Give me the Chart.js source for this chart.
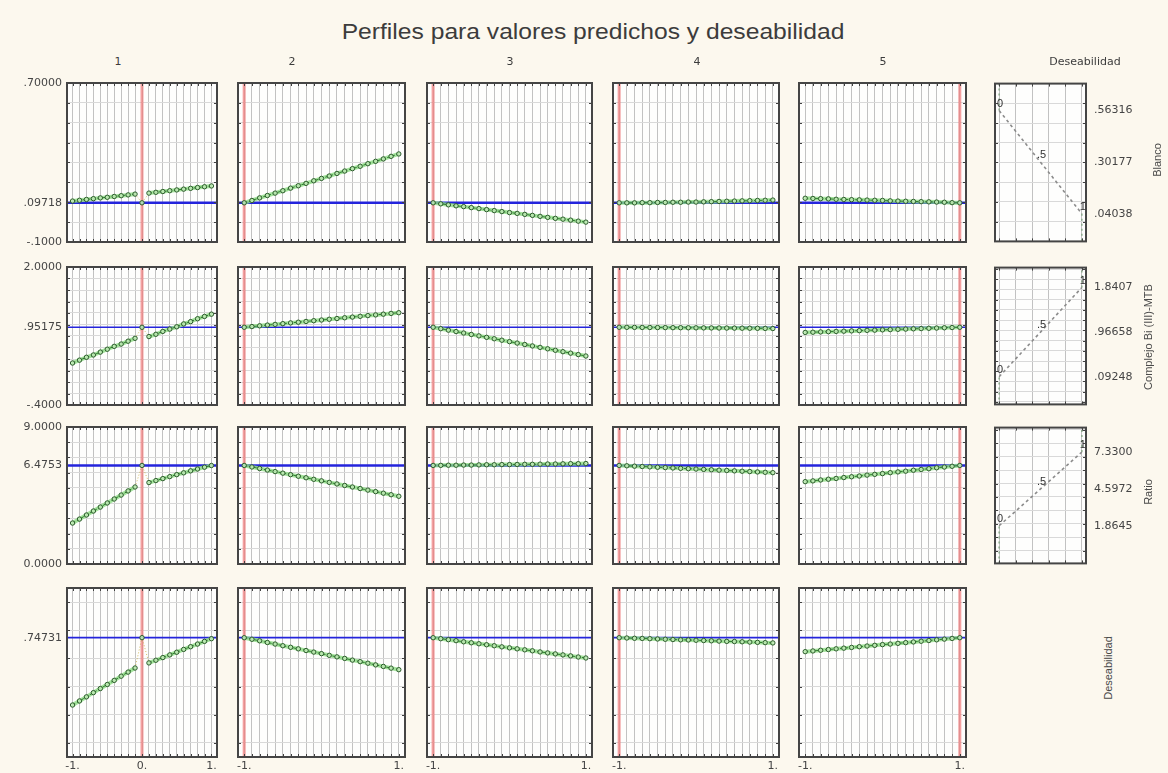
<!DOCTYPE html>
<html>
<head>
<meta charset="utf-8">
<script src="https://cdn.jsdelivr.net/npm/chart.js@4.4.1/dist/chart.umd.min.js"></script>
<style>
  html, body { margin: 0; padding: 0; background: #fcf8ee; }
  body { width: 1168px; height: 773px; position: relative; overflow: hidden; font-family: "Liberation Sans", Arial, sans-serif; }
  canvas { position: absolute; }
  .txt { position: absolute; color: #444; white-space: nowrap; line-height: 1; }
  #title { top: 21px; left: 93px; width: 1000px; text-align: center; font-size: 22px; line-height: 22px; color: #3c3c3c; transform: scaleX(1.12); }
  .head { font-size: 11px; top: 56px; transform: translateX(-50%); font-family: "DejaVu Sans", sans-serif; color: #3c3c3c; }
  .rname { font-size: 11px; transform: translate(-50%, -50%) rotate(-90deg); color: #4a4a4a; }
</style>
</head>
<body>
<div id="title" class="txt">Perfiles para valores predichos y deseabilidad</div>
<script>
// ---- factor levels (coded) along each profile ----
const levels = [-1.0, -0.9, -0.8, -0.7, -0.6, -0.5, -0.4, -0.3, -0.2, -0.1, 0.0,
                 0.1, 0.2, 0.3, 0.4, 0.5, 0.6, 0.7, 0.8, 0.9, 1.0];
const factorNames = ['1', '2', '3', '4', '5'];
const currentSetting = [0, -1, -1, -1, 1];

// ---- responses ----
const responseNames = ['Blanco', 'Complejo Bi (III)-MTB', 'Ratio', 'Deseabilidad'];
const currentPredicted = [0.09718, 0.95175, 6.4753, 0.74731];
const currentLabels = ['.09718', '.95175', '6.4753', '.74731'];
const axisMin = [-0.1, -0.4, 0.0, -0.1];
const axisMax = [0.7, 2.0, 9.0, 1.1];
const axisMinLabels = ['-.1000', '-.4000', '0.0000', null];
const axisMaxLabels = ['.70000', '2.0000', '9.0000', null];
const gridStep = [0.1, 0.2, 1.0, 0.2];
const levelTickValues = [-1, 0, 1];
const levelTickLabels = ['-1.', '0.', '1.'];

// ---- predicted profiles: Blanco ----
const blancoF1 = [0.106, 0.110, 0.114, 0.118, 0.122, 0.125, 0.129, 0.133, 0.137, 0.141, 0.09718,
                  0.146, 0.150, 0.154, 0.158, 0.162, 0.166, 0.170, 0.174, 0.178, 0.182];
const blancoF2 = [0.0972, 0.109, 0.122, 0.134, 0.146, 0.158, 0.171, 0.183, 0.195, 0.208, 0.220,
                  0.232, 0.245, 0.257, 0.269, 0.281, 0.294, 0.306, 0.318, 0.331, 0.343];
const blancoF3 = [0.0972, 0.092, 0.087, 0.082, 0.078, 0.073, 0.068, 0.063, 0.058, 0.053, 0.048,
                  0.044, 0.039, 0.034, 0.029, 0.024, 0.019, 0.015, 0.010, 0.005, 0.000];
const blancoF4 = [0.0972, 0.097, 0.097, 0.098, 0.098, 0.099, 0.099, 0.100, 0.100, 0.101, 0.101,
                  0.102, 0.103, 0.104, 0.105, 0.106, 0.107, 0.108, 0.109, 0.110, 0.111];
const blancoF5 = [0.120, 0.119, 0.118, 0.117, 0.115, 0.114, 0.113, 0.112, 0.111, 0.110, 0.109,
                  0.107, 0.106, 0.105, 0.104, 0.103, 0.102, 0.101, 0.100, 0.098, 0.0972];

// ---- predicted profiles: Complejo Bi (III)-MTB ----
const complejoF1 = [0.33, 0.38, 0.43, 0.47, 0.52, 0.57, 0.62, 0.66, 0.71, 0.76, 0.95175,
                    0.79, 0.83, 0.88, 0.92, 0.96, 1.01, 1.05, 1.10, 1.14, 1.18];
const complejoF2 = [0.952, 0.964, 0.977, 0.990, 1.002, 1.015, 1.028, 1.040, 1.053, 1.066, 1.078,
                    1.091, 1.104, 1.117, 1.129, 1.142, 1.155, 1.167, 1.180, 1.193, 1.205];
const complejoF3 = [0.952, 0.927, 0.902, 0.877, 0.852, 0.827, 0.802, 0.777, 0.752, 0.727, 0.702,
                    0.677, 0.652, 0.627, 0.602, 0.577, 0.552, 0.527, 0.502, 0.477, 0.452];
const complejoF4 = [0.952, 0.951, 0.950, 0.949, 0.948, 0.947, 0.946, 0.945, 0.944, 0.943, 0.942,
                    0.941, 0.940, 0.939, 0.938, 0.937, 0.936, 0.935, 0.934, 0.932, 0.930];
const complejoF5 = [0.862, 0.866, 0.871, 0.875, 0.880, 0.884, 0.889, 0.893, 0.898, 0.902, 0.907,
                    0.911, 0.916, 0.920, 0.925, 0.929, 0.934, 0.938, 0.943, 0.947, 0.952];

// ---- predicted profiles: Ratio ----
const ratioF1 = [2.69, 2.95, 3.22, 3.48, 3.74, 4.01, 4.27, 4.53, 4.80, 5.06, 6.4753,
                 5.35, 5.48, 5.61, 5.74, 5.87, 5.99, 6.12, 6.24, 6.36, 6.47];
const ratioF2 = [6.475, 6.374, 6.273, 6.172, 6.070, 5.969, 5.868, 5.767, 5.665, 5.564, 5.463,
                 5.362, 5.260, 5.159, 5.058, 4.957, 4.855, 4.754, 4.653, 4.552, 4.450];
const ratioF3 = [6.475, 6.48, 6.49, 6.49, 6.50, 6.50, 6.51, 6.52, 6.52, 6.53, 6.53,
                 6.54, 6.55, 6.55, 6.56, 6.57, 6.57, 6.58, 6.59, 6.59, 6.60];
const ratioF4 = [6.475, 6.451, 6.428, 6.404, 6.380, 6.356, 6.333, 6.309, 6.285, 6.261, 6.238,
                 6.214, 6.190, 6.166, 6.143, 6.119, 6.095, 6.071, 6.048, 6.024, 6.000];
const ratioF5 = [5.41, 5.46, 5.52, 5.57, 5.62, 5.68, 5.73, 5.78, 5.84, 5.89, 5.94,
                 6.00, 6.05, 6.10, 6.16, 6.21, 6.26, 6.32, 6.37, 6.42, 6.475];

// ---- overall desirability profiles ----
const desirF1 = [0.269, 0.298, 0.327, 0.357, 0.386, 0.415, 0.444, 0.474, 0.503, 0.532, 0.74731,
                 0.568, 0.587, 0.606, 0.625, 0.644, 0.664, 0.683, 0.702, 0.721, 0.740];
const desirF2 = [0.747, 0.736, 0.725, 0.713, 0.702, 0.690, 0.679, 0.668, 0.656, 0.645, 0.634,
                 0.622, 0.611, 0.600, 0.588, 0.577, 0.566, 0.554, 0.543, 0.531, 0.520];
const desirF3 = [0.747, 0.740, 0.733, 0.726, 0.718, 0.711, 0.704, 0.697, 0.690, 0.682, 0.675,
                 0.668, 0.661, 0.654, 0.646, 0.639, 0.632, 0.625, 0.618, 0.610, 0.603];
const desirF4 = [0.747, 0.745, 0.743, 0.742, 0.740, 0.738, 0.736, 0.734, 0.732, 0.731, 0.729,
                 0.727, 0.725, 0.723, 0.721, 0.720, 0.718, 0.716, 0.714, 0.712, 0.710];
const desirF5 = [0.648, 0.653, 0.658, 0.663, 0.668, 0.673, 0.678, 0.683, 0.688, 0.693, 0.698,
                 0.702, 0.707, 0.712, 0.717, 0.722, 0.727, 0.732, 0.737, 0.742, 0.747];

// ---- individual desirability functions (response value at d = 0, .5, 1) ----
const desLevels = [0, 0.5, 1];
const desLevelLabels = ['0', '.5', '1'];
const blancoDes = [0.56316, 0.30177, 0.04038];
const blancoDesLabels = ['.56316', '.30177', '.04038'];
const complejoDes = [0.09248, 0.96658, 1.8407];
const complejoDesLabels = ['.09248', '.96658', '1.8407'];
const ratioDes = [1.8645, 4.5972, 7.3300];
const ratioDesLabels = ['1.8645', '4.5972', '7.3300'];

// tables assembled from the arrays above
const profiles = [
  [blancoF1, blancoF2, blancoF3, blancoF4, blancoF5],
  [complejoF1, complejoF2, complejoF3, complejoF4, complejoF5],
  [ratioF1, ratioF2, ratioF3, ratioF4, ratioF5],
  [desirF1, desirF2, desirF3, desirF4, desirF5]
];
const desFunctions = [
  { values: blancoDes, labels: blancoDesLabels },
  { values: complejoDes, labels: complejoDesLabels },
  { values: ratioDes, labels: ratioDesLabels }
];

// ---- page layout (pixel boxes of each plotting area) ----
const colBox = [[67, 217], [238, 405], [427, 592], [613, 779], [799, 966]];
const desBox = [995, 1086];
const rowBox = [[83, 242], [267, 405], [427, 564], [588, 757]];
const desAxisMin = [-0.1, -0.45, -0.93];
const desAxisMax = [0.7, 2.23, 9.15];
const levelMin = -1.08, levelMax = 1.08;
const headPos = [118, 292, 510, 697, 883];
const rowNamePos = [[1157, 160], [1148, 337], [1148, 492], [1108, 668]];

Chart.defaults.font.family = '"DejaVu Sans", "Liberation Sans", sans-serif';
Chart.defaults.font.size = 11;
Chart.defaults.color = '#454545';

function gridValues(min, max, step) {
  const out = [];
  const k0 = Math.ceil(min / step - 1e-9), k1 = Math.floor(max / step + 1e-9);
  for (let k = k0; k <= k1; k++) out.push(+(k * step).toFixed(6));
  return out;
}

// frame, inward tick marks, white plotting area and point captions
const decor = {
  id: 'decor',
  beforeDraw(chart) {
    const { ctx, chartArea: a } = chart;
    ctx.save();
    ctx.fillStyle = '#fefefd';
    ctx.fillRect(a.left, a.top, a.right - a.left, a.bottom - a.top);
    ctx.restore();
  },
  afterDraw(chart, args, o) {
    const { ctx, chartArea: a, scales } = chart;
    ctx.save();
    ctx.strokeStyle = '#404040';
    ctx.lineWidth = 1;
    const t = 3;
    ctx.beginPath();
    o.xGrid.forEach(v => {
      const p = Math.round(scales.x.getPixelForValue(v)) + 0.5;
      ctx.moveTo(p, a.top); ctx.lineTo(p, a.top + t);
      ctx.moveTo(p, a.bottom); ctx.lineTo(p, a.bottom - t);
    });
    o.yGrid.forEach(v => {
      const p = Math.round(scales.y.getPixelForValue(v)) + 0.5;
      ctx.moveTo(a.left, p); ctx.lineTo(a.left + t, p);
      ctx.moveTo(a.right, p); ctx.lineTo(a.right - t, p);
    });
    ctx.stroke();
    ctx.lineWidth = 2;
    ctx.strokeStyle = '#454545';
    ctx.strokeRect(a.left, a.top, a.right - a.left, a.bottom - a.top);
    if (o.captions) {
      const meta = chart.getDatasetMeta(o.captionDataset);
      ctx.fillStyle = '#333';
      ctx.font = '11px "Liberation Sans", sans-serif';
      ctx.textAlign = 'center';
      ctx.textBaseline = 'middle';
      meta.data.forEach((el, i) => ctx.fillText(o.captions[i], el.x + 1, el.y - 7));
    }
    ctx.restore();
  }
};

function addPanel(p) {
  const w = p.x1 - p.x0, h = p.y1 - p.y0;
  const W = w + p.padL + p.padR, H = h + p.padT + p.padB;
  const c = document.createElement('canvas');
  c.width = W; c.height = H;
  c.style.left = (p.x0 - p.padL) + 'px';
  c.style.top = (p.y0 - p.padT) + 'px';
  c.style.width = W + 'px';
  c.style.height = H + 'px';
  document.body.appendChild(c);

  const labelAxis = (list, pos, width, pad) => ({
    type: 'linear', position: pos, min: p.yMin, max: p.yMax,
    afterBuildTicks: s => { s.ticks = (list || []).map(l => ({ value: l.v })); },
    ticks: { display: !!list, autoSkip: false, padding: pad, color: '#454545',
             callback: (v, i) => (list ? list[i].t : '') },
    grid: { display: false, drawTicks: false },
    border: { display: false },
    afterFit: s => { s.width = width; }
  });

  new Chart(c, {
    type: 'scatter',
    data: { datasets: p.datasets },
    plugins: [decor],
    options: {
      responsive: false,
      animation: false,
      devicePixelRatio: 1,
      layout: { padding: { top: p.padT, left: 0, right: 0, bottom: 0 } },
      plugins: {
        legend: { display: false },
        tooltip: { enabled: false },
        decor: { xGrid: p.xGrid, yGrid: p.yGrid, captions: p.captions || null, captionDataset: p.captionDataset || 0 }
      },
      scales: {
        x: {
          type: 'linear', position: 'bottom', min: p.xMin, max: p.xMax,
          afterBuildTicks: s => { s.ticks = p.xGrid.map(v => ({ value: v })); },
          ticks: {
            display: !!p.bottom, autoSkip: false, maxRotation: 0, minRotation: 0, padding: 3, color: '#454545',
            callback: v => {
              if (!p.bottom) return '';
              const hit = p.bottom.find(b => Math.abs(b.v - v) < 1e-6);
              return hit ? hit.t : '';
            }
          },
          grid: { color: '#c2c2c2', lineWidth: 1, drawTicks: false },
          border: { display: false },
          afterFit: s => { s.height = p.padB; }
        },
        y: {
          type: 'linear', position: 'left', min: p.yMin, max: p.yMax,
          afterBuildTicks: s => { s.ticks = p.yGrid.map(v => ({ value: v })); },
          ticks: { display: false },
          grid: { color: '#d9d9d9', lineWidth: 1, drawTicks: false },
          border: { display: false },
          afterFit: s => { s.width = 0; }
        },
        yl: labelAxis(p.left, 'left', p.padL, 5),
        yr: labelAxis(p.right, 'right', p.padR, 8)
      }
    }
  });
}

// ---- profile panels ----
const xGridMain = gridValues(-1, 1, 0.1);
for (let r = 0; r < 4; r++) {
  const yGrid = gridValues(axisMin[r], axisMax[r], gridStep[r]).filter(v => v > axisMin[r] && v < axisMax[r]);
  for (let c = 0; c < 5; c++) {
    const pts = levels.map((x, i) => ({ x: x, y: profiles[r][c][i] }));
    // an interior current setting gives a jump in the profile: the two
    // segments that touch it are drawn as a thin dotted connector
    const iCur = levels.indexOf(currentSetting[c]);
    const interior = iCur > 0 && iCur < levels.length - 1;
    const isJump = ctx => interior && (ctx.p0DataIndex === iCur - 1 || ctx.p0DataIndex === iCur);
    const datasets = [
      { data: pts, showLine: true, order: 0, borderColor: '#2f7f2f', borderWidth: 1, borderDash: [3, 2],
        pointRadius: 2.2, pointBorderWidth: 1, pointBorderColor: '#2d5c2d', pointBackgroundColor: 'rgba(190,235,180,0.9)',
        segment: {
          borderColor: ctx => isJump(ctx) ? 'rgba(205,180,80,0.9)' : undefined,
          borderDash: ctx => isJump(ctx) ? [1, 2] : undefined
        } },
      { data: pts, showLine: true, order: 1, borderColor: 'rgba(140,220,130,0.8)', borderWidth: 4, pointRadius: 0,
        segment: { borderColor: ctx => isJump(ctx) ? 'rgba(0,0,0,0)' : undefined } },
      { data: [{ x: levelMin, y: currentPredicted[r] }, { x: levelMax, y: currentPredicted[r] }], showLine: true, order: 2,
        borderColor: '#2424dc', borderWidth: (r === 0 || r === 2) ? 2.6 : 1.6, pointRadius: 0 },
      { data: [{ x: currentSetting[c], y: axisMin[r] }, { x: currentSetting[c], y: axisMax[r] }], showLine: true, order: 3,
        borderColor: 'rgba(240,120,120,0.7)', borderWidth: 3, pointRadius: 0 }
    ];
    let left = null;
    if (c === 0) {
      left = [];
      if (axisMaxLabels[r] !== null) left.push({ v: axisMax[r], t: axisMaxLabels[r] });
      left.push({ v: currentPredicted[r], t: currentLabels[r] });
      if (axisMinLabels[r] !== null) left.push({ v: axisMin[r], t: axisMinLabels[r] });
    }
    let bottom = null;
    if (r === 3) {
      bottom = levelTickValues.map((v, i) => ({ v: v, t: levelTickLabels[i] }))
        .filter(b => c === 0 || b.v !== 0);
    }
    addPanel({
      x0: colBox[c][0], x1: colBox[c][1], y0: rowBox[r][0], y1: rowBox[r][1],
      padL: c === 0 ? 70 : 12, padR: 12, padT: 14, padB: r === 3 ? 26 : 14,
      xMin: levelMin, xMax: levelMax, yMin: axisMin[r], yMax: axisMax[r],
      xGrid: xGridMain, yGrid: yGrid, datasets: datasets, left: left, bottom: bottom
    });
  }
}

// ---- individual desirability panels ----
for (let r = 0; r < 3; r++) {
  const f = desFunctions[r];
  const yMin = desAxisMin[r], yMax = desAxisMax[r];
  const v = f.values;
  const decreasing = v[0] > v[v.length - 1];
  const core = desLevels.map((d, i) => ({ x: d, y: v[i] }));
  const lowEnd = [{ x: 0, y: decreasing ? yMax : yMin }, { x: 0, y: v[0] }];
  const highEnd = [{ x: 1, y: v[v.length - 1] }, { x: 1, y: decreasing ? yMin : yMax }];
  const yGrid = gridValues(yMin, yMax, gridStep[r]).filter(g => g > yMin && g < yMax);
  addPanel({
    x0: desBox[0], x1: desBox[1], y0: rowBox[r][0], y1: rowBox[r][1],
    padL: 12, padR: 70, padT: 14, padB: 14,
    xMin: -0.05, xMax: 1.05, yMin: yMin, yMax: yMax,
    xGrid: gridValues(0, 1, 0.2), yGrid: yGrid,
    datasets: [
      { data: core, showLine: true, order: 0, borderColor: '#8c8c8c', borderWidth: 1.6, borderDash: [3, 3], pointRadius: 0 },
      { data: lowEnd, showLine: true, order: 1, borderColor: '#86a886', borderWidth: 1.4, borderDash: [2, 3], pointRadius: 0 },
      { data: highEnd, showLine: true, order: 1, borderColor: '#86a886', borderWidth: 1.4, borderDash: [2, 3], pointRadius: 0 }
    ],
    right: v.map((val, i) => ({ v: val, t: f.labels[i] })),
    captions: desLevelLabels, captionDataset: 0
  });
}

// ---- headers and response names ----
factorNames.forEach((name, i) => {
  const d = document.createElement('div');
  d.className = 'txt head';
  d.style.left = headPos[i] + 'px';
  d.textContent = name;
  document.body.appendChild(d);
});
const desHead = document.createElement('div');
desHead.className = 'txt head';
desHead.style.left = '1085px';
desHead.textContent = 'Deseabilidad';
document.body.appendChild(desHead);

responseNames.forEach((name, i) => {
  const d = document.createElement('div');
  d.className = 'txt rname';
  d.style.left = rowNamePos[i][0] + 'px';
  d.style.top = rowNamePos[i][1] + 'px';
  d.textContent = name;
  document.body.appendChild(d);
});
</script>
</body>
</html>
